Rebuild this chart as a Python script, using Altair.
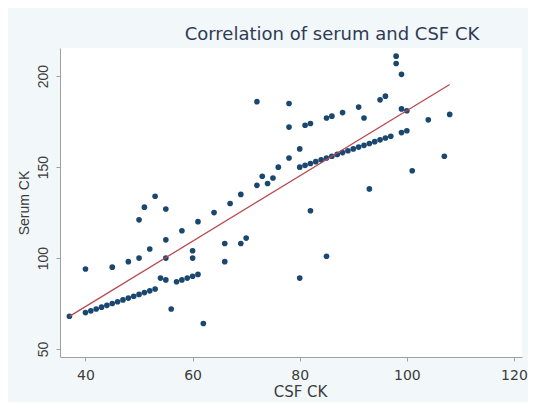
import altair as alt
import pandas as pd

# CSF CK (x) and Serum CK (y)
csf = [37,
       40, 41, 42, 43, 44, 45, 46, 47, 48, 49, 50, 51, 52, 53,
       54, 55,
       57, 58, 59, 60, 61,
       56, 62,
       40, 45, 48, 50, 52, 55, 55, 58, 60, 60, 61, 64, 67, 66, 66, 69, 70,
       50, 51, 55, 53, 69, 72, 73, 74, 75, 76, 78, 78, 78, 72, 80,
       80, 81, 82, 83, 84, 85, 86, 87, 88, 89, 90, 91, 92, 93, 94, 95, 96, 97,
       99, 100,
       93, 101, 107, 108, 104, 99, 100, 99, 98, 98, 95, 96, 91, 92, 88, 85, 86, 81, 82,
       82, 85, 80]
serum = [68,
         70, 71, 72, 73, 74, 75, 76, 77, 78, 79, 80, 81, 82, 83,
         89, 88,
         87, 88, 89, 90, 91,
         72, 64,
         94, 95, 98, 100, 105, 100, 110, 115, 104, 100, 120, 125, 130, 108, 98, 108, 111,
         121, 128, 127, 134, 135, 140, 145, 141, 144, 150, 155, 172, 185, 186, 160,
         150, 151, 152, 153, 154, 155, 156, 157, 158, 159, 160, 161, 162, 163, 164, 165, 166, 167,
         169, 170,
         138, 148, 156, 179, 176, 182, 181, 201, 207, 211, 187, 189, 183, 177, 180, 177, 178, 173, 174,
         126, 101, 89]

x_ticks = [40, 60, 80, 100, 120]
y_ticks = [50, 100, 150, 200]

df = pd.DataFrame({"csf": csf, "serum": serum})

x_enc = alt.X("csf:Q",
              scale=alt.Scale(domain=[35.24, 121.5], nice=False, zero=False),
              axis=alt.Axis(values=x_ticks, title="CSF CK", grid=False,
                            labelFont="DejaVu Sans", labelFontSize=14,
                            labelColor="#3c3c3c", labelPadding=7,
                            titleFont="DejaVu Sans", titleFontSize=15,
                            titleFontWeight="normal", titleColor="#3c3c3c",
                            titleX=240, titleY=27, titleBaseline="top",
                            domainColor="#a0a0a0", tickColor="#a0a0a0",
                            tickSize=4))
y_enc = alt.Y("serum:Q",
              scale=alt.Scale(domain=[45.6, 215.5], nice=False, zero=False),
              axis=alt.Axis(values=y_ticks, title="Serum CK", grid=False,
                            labelFont="Liberation Sans", labelFontSize=14,
                            labelColor="#3c3c3c", labelAngle=270,
                            labelPadding=6,
                            titleFont="Liberation Sans", titleFontSize=14,
                            titleFontWeight="normal", titleColor="#3c3c3c",
                            titleX=-29,
                            domainColor="#a0a0a0", tickColor="#a0a0a0",
                            tickSize=4))

points = alt.Chart(df).mark_circle(size=32, color="#1a476f", opacity=1).encode(
    x=x_enc, y=y_enc)

fit = alt.Chart(df).transform_regression("csf", "serum").mark_line(
    color="#b84a50", strokeWidth=1.3).encode(x="csf:Q", y="serum:Q")

chart = alt.layer(points, fit).properties(
    width=462, height=309,
    title=alt.TitleParams("Correlation of serum and CSF CK",
                          font="DejaVu Sans", fontSize=18,
                          fontWeight="normal", color="#2f3b55",
                          anchor="middle", dx=41, offset=4),
    background="#F2F8FA",
    padding={"left": 52, "top": 40, "right": 6, "bottom": 45},
    autosize=alt.AutoSizeParams(type="none"),
).configure_view(stroke=None, fill="white")

chart.save("out.html", embed_options={"renderer": "svg", "actions": False})
